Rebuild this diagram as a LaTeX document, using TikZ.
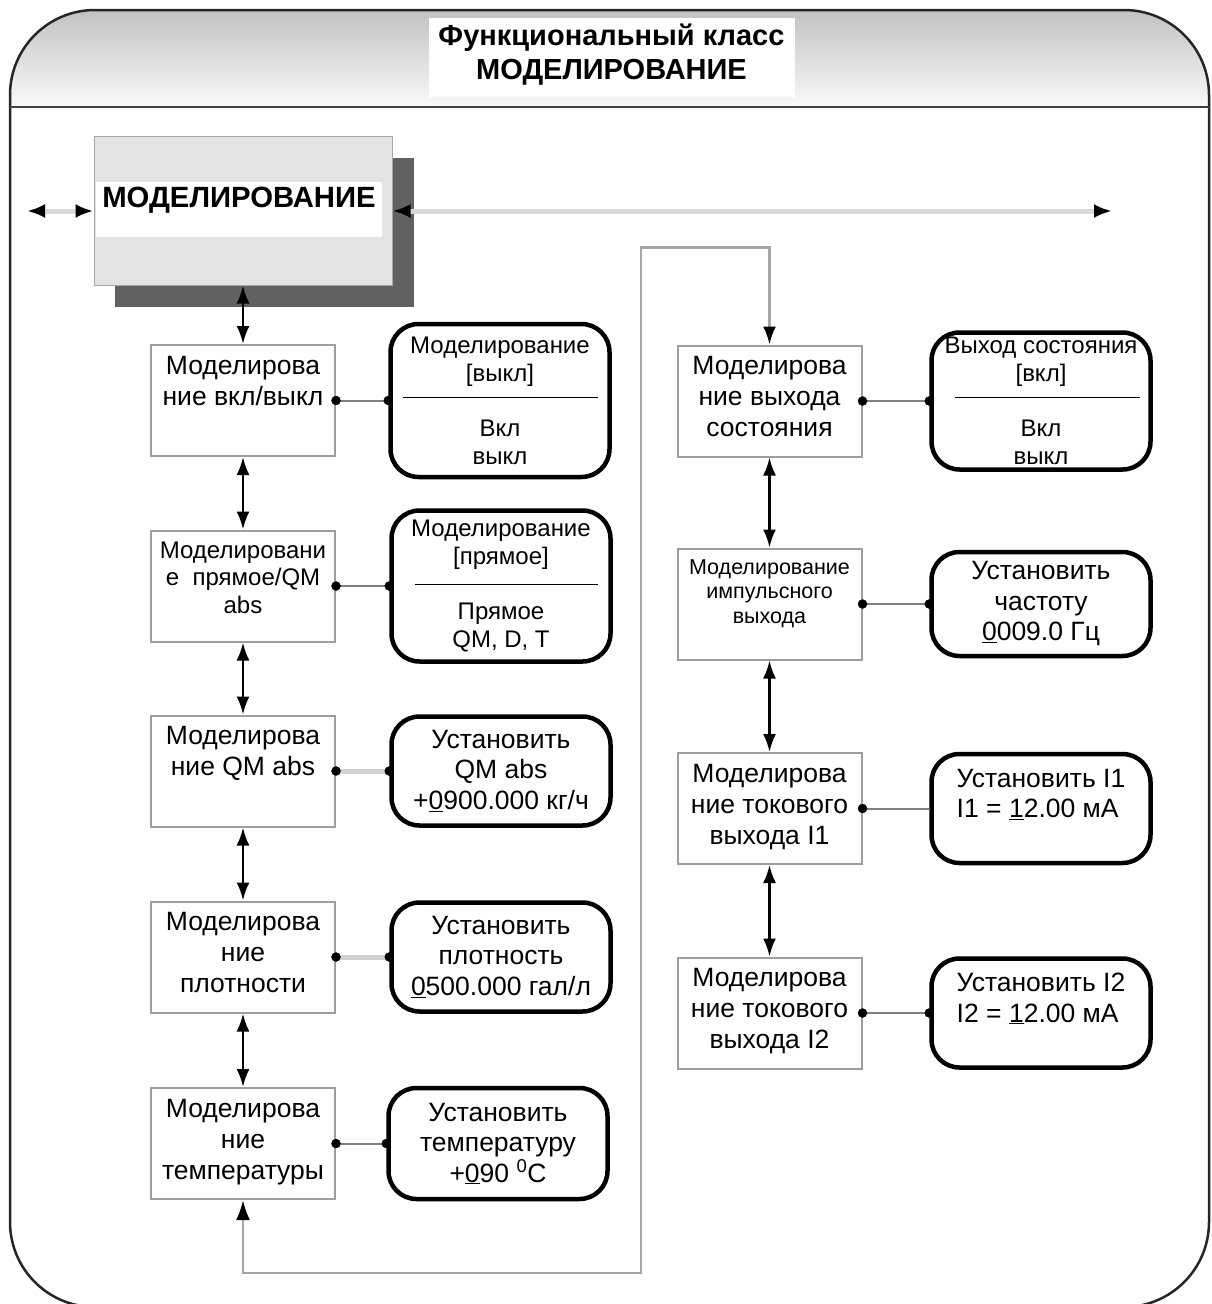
\documentclass[tikz,border=0pt]{standalone}
\usepackage{fontspec}
\setmainfont{Liberation Sans}
\usetikzlibrary{%
  arrows.meta%
}
\tikzset{>={Latex[length=18pt,width=13pt]}}
\tikzset{simbox/.style = {draw=black!38, line width=2pt, fill=white,
    minimum width=184pt, minimum height=111pt, inner xsep=0pt, inner ysep=11pt,
    font=\fontsize{26.5}{31}\selectfont,
    execute at begin node={\begin{minipage}[t][89pt][t]{184pt}\centering},
    execute at end node={\end{minipage}}},
  optbox/.style = {draw, line width=4.5pt, rounded corners=28pt, fill=white,
    minimum width=219pt, inner sep=0pt, align=center,
    font=\fontsize{26.5}{30.5}\selectfont},
  optsmall/.style = {optbox, font=\fontsize{24}{28}\selectfont},
  updown/.style = {<->, line width=2.5pt},
  bus/.style = {draw=black!15, line width=5pt,
    {Latex[black,length=18pt,width=14pt]}-{Latex[black,length=18pt,width=14pt]}},
  loopline/.style = {draw=black!35, line width=2.5pt,
    {Latex[black,length=20pt,width=14pt]}-{Latex[black,length=18pt,width=13pt]}},
  link/.style = {draw=black!50, line width=2pt},
  palelink/.style = {draw=black!18, line width=5pt}}

\begin{document}
\begin{tikzpicture}[x=1pt, y=-1pt]
  \useasboundingbox (0,0) rectangle (1211,1304);
  \clip (0,0) rectangle (1211,1304);
  \shade[top color=black!24, bottom color=black!2] (10,107) -- (10,95)
    arc[start angle=180, end angle=90, radius=85pt] -- (1124,10)
    arc[start angle=90, end angle=0, radius=85pt] -- (1209,107) -- cycle;
  \draw[black!85, line width=2.5pt, rounded corners=85pt] (10,10) rectangle (1209,1307);
  \draw[black!75, line width=2.5pt] (10,107) -- (1209,107);
  \node[fill=white, minimum width=366pt, minimum height=79pt, inner sep=0pt] (classbox) at (611.5,57.5) {};
  \node[font=\bfseries\fontsize{29}{34}\selectfont, align=center] (classname) at (611.5,55)
    {Функциональный класс\\МОДЕЛИРОВАНИЕ};

  \fill[black!62] (115,158) rectangle (414,307);
  \node[draw=black!35, line width=1pt, fill=black!11, minimum width=298pt, minimum height=149pt] (main) at (243,210.5) {};
  \node[fill=white, minimum width=286pt, minimum height=55pt, inner sep=0pt] (mainband) at (239,209.5) {};
  \node[font=\bfseries\fontsize{29.3}{33}\selectfont, inner sep=0pt] (maintitle) at (239,200) {МОДЕЛИРОВАНИЕ};
  \coordinate (busL) at (27,211);
  \coordinate (busR) at (1112,211);
  \draw[bus] (busL) -- (main.west |- busL);
  \draw[bus] (main.east |- busR) -- (busR);

  \node[simbox] (onoffsim) at (243,400.5) {Моделирова\\ние вкл/выкл};
  \node[simbox, font=\fontsize{24}{27.5}\selectfont] (dirsim) at (243,586) {Моделировани\\е\ \ прямое/QM\\abs};
  \node[simbox] (qmsim) at (243,771) {Моделирова\\ние QM abs};
  \node[simbox] (rhosim) at (243,957) {Моделирова\\ние\\плотности};
  \node[simbox] (tempsim) at (243,1143.5) {Моделирова\\ние\\температуры};

  \node[simbox] (statsim) at (769.5,401) {Моделирова\\ние выхода\\состояния};
  \node[simbox, font=\fontsize{21.5}{24.5}\selectfont] (pulsesim) at (769.5,604) {Моделирование\\импульсного\\выхода};
  \node[simbox] (curIsim) at (769.5,808.5) {Моделирова\\ние токового\\выхода I1};
  \node[simbox] (curIIsim) at (769.5,1013) {Моделирова\\ние токового\\выхода I2};

  \node[optsmall, minimum height=153pt] (offopt) at (500,400.5) {Моделирование\\{}[выкл]\\[27pt]Вкл\\выкл};
  \node[optsmall, minimum height=151pt] (diropt) at (501,586) {Моделирование\\{}[прямое]\\[27pt]Прямое\\QM, D, T};
  \node[optbox, minimum height=109pt] (qmopt) at (501,771) {Установить\\QM abs\\+\underline{0}900.000 кг/ч};
  \node[optbox, minimum height=109pt] (rhoopt) at (501,957) {Установить\\плотность\\\underline{0}500.000 гал/л};
  \node[optbox, minimum height=111pt] (tempopt) at (498,1143.5) {Установить\\температуру\\+\underline{0}90 \textsuperscript{0}C};

  \node[optsmall, minimum height=137pt] (statopt) at (1041,401) {Выход состояния\\{}[вкл]\\[27pt]Вкл\\выкл};
  \node[optbox, minimum height=104pt] (freqopt) at (1041,604) {Установить\\частоту\\\underline{0}009.0 Гц};
  \node[optbox, minimum height=109pt, align=left] (curIopt) at (1041,808.5) {Установить I1\\I1 = \underline{1}2.00 мА\\\mbox{}};
  \node[optbox, minimum height=109pt, align=left] (curIIopt) at (1041,1013) {Установить I2\\I2 = \underline{1}2.00 мА\\\mbox{}};
  \draw[line width=0.9pt] (403,397) -- (598,397);
  \draw[line width=0.9pt] (415,584) -- (598,584);
  \draw[line width=0.9pt] (955,397) -- (1140,397);

  \foreach \a/\b in {main/onoffsim, onoffsim/dirsim, dirsim/qmsim, qmsim/rhosim, rhosim/tempsim,
      statsim/pulsesim, pulsesim/curIsim, curIsim/curIIsim}
    \draw[updown] (\a.south) -- (\b.north);

  \draw[link] (onoffsim.east) -- (offopt.west);
  \draw[link] (dirsim.east) -- (diropt.west);
  \draw[palelink] (qmsim.east) -- (qmopt.west);
  \draw[palelink] (rhosim.east) -- (rhoopt.west);
  \draw[link] (tempsim.east) -- (tempopt.west);
  \draw[link] (statsim.east) -- (statopt.west);
  \draw[link] (pulsesim.east) -- (freqopt.west);
  \draw[link] (curIsim.east) -- (curIopt.west);
  \draw[link] (curIIsim.east) -- (curIIopt.west);
  \foreach \n in {onoffsim, dirsim, qmsim, rhosim, tempsim, statsim, pulsesim, curIsim, curIIsim}
    \draw[fill=black] (\n.east) circle[radius=4.5pt];
  \foreach \n in {offopt, diropt, qmopt, rhoopt, tempopt, statopt, freqopt, curIIopt}
    \draw[fill=black] (\n.west) circle[radius=4.5pt];

  \draw[loopline] (tempsim.south) -- ++(0,73) -- ++(398,0) |- ([yshift=97pt]statsim.north) -- (statsim.north);
\end{tikzpicture}
\end{document}
